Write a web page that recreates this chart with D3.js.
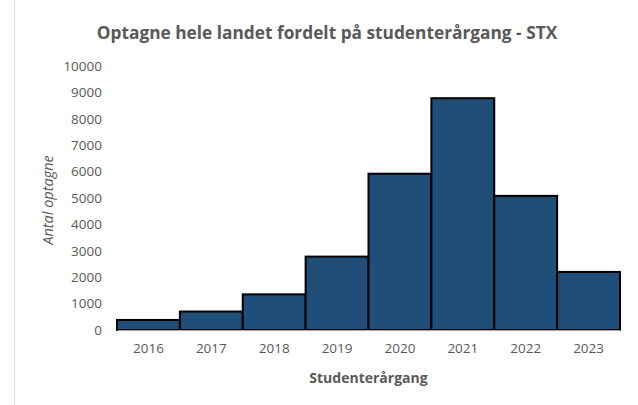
<!DOCTYPE html>
<html>
<head>
<meta charset="utf-8">
<script src="https://cdn.jsdelivr.net/npm/d3@7"></script>
<style>
  body { margin: 0; background: #fff; }
  text { font-family: "Open Sans", sans-serif; fill: #595959; }
</style>
</head>
<body>
<div id="chart"></div>
<script>
// data
var years = ["2016", "2017", "2018", "2019", "2020", "2021", "2022", "2023"];
var optagne = [380, 700, 1350, 2780, 5920, 8780, 5080, 2200];
var yTicks = [0, 1000, 2000, 3000, 4000, 5000, 6000, 7000, 8000, 9000, 10000];

var svgWidth = 638, svgHeight = 405;
var margin = {top: 66, right: 18, bottom: 75, left: 117};
var width = svgWidth - margin.left - margin.right;
var height = svgHeight - margin.top - margin.bottom;

var svg = d3.select("#chart").append("svg")
  .attr("width", svgWidth)
  .attr("height", svgHeight);

// light chart border on the left
svg.append("line")
  .attr("x1", 14.5).attr("x2", 14.5)
  .attr("y1", 0).attr("y2", svgHeight)
  .attr("stroke", "#d9d9d9");

var chartGroup = svg.append("g")
  .attr("transform", `translate(${margin.left}, ${margin.top})`);

var x = d3.scaleBand().domain(years).range([0, width]).padding(0);
var y = d3.scaleLinear().domain([0, 10000]).range([height, 0]);

// y axis, labels only
var leftAxis = d3.axisLeft(y).tickValues(yTicks).tickFormat(d3.format("d"))
  .tickSize(0).tickPadding(15);
var gy = chartGroup.append("g").call(leftAxis);
gy.select(".domain").remove();
gy.selectAll("text").style("font-size", "13.5px").attr("fill", "#595959");

// bars
chartGroup.selectAll("rect.bar")
  .data(optagne)
  .enter()
  .append("rect")
  .attr("class", "bar")
  .attr("x", (d, i) => x(years[i]))
  .attr("y", d => y(d))
  .attr("width", x.bandwidth())
  .attr("height", d => height - y(d))
  .attr("fill", "#1f4e79")
  .attr("stroke", "#000")
  .attr("stroke-width", 2);

// x axis
var bottomAxis = d3.axisBottom(x).tickSize(0).tickPadding(13);
var gx = chartGroup.append("g")
  .attr("transform", `translate(0, ${height})`)
  .call(bottomAxis);
gx.select(".domain").attr("stroke", "#a6a6a6").attr("stroke-width", 1);
gx.selectAll("text").style("font-size", "13.5px").attr("fill", "#595959");

// title
svg.append("text")
  .attr("x", 327)
  .attr("y", 39)
  .attr("text-anchor", "middle")
  .style("font-size", "17.3px")
  .style("font-weight", "bold")
  .text("Optagne hele landet fordelt på studenterårgang - STX");

// axis titles
svg.append("text")
  .attr("x", margin.left + width / 2)
  .attr("y", 383)
  .attr("text-anchor", "middle")
  .style("font-size", "14px")
  .style("font-weight", "bold")
  .text("Studenterårgang");

svg.append("text")
  .attr("transform", "rotate(-90)")
  .attr("x", -200)
  .attr("y", 53)
  .attr("text-anchor", "middle")
  .style("font-size", "14.5px")
  .style("font-style", "italic")
  .text("Antal optagne");
</script>
</body>
</html>
